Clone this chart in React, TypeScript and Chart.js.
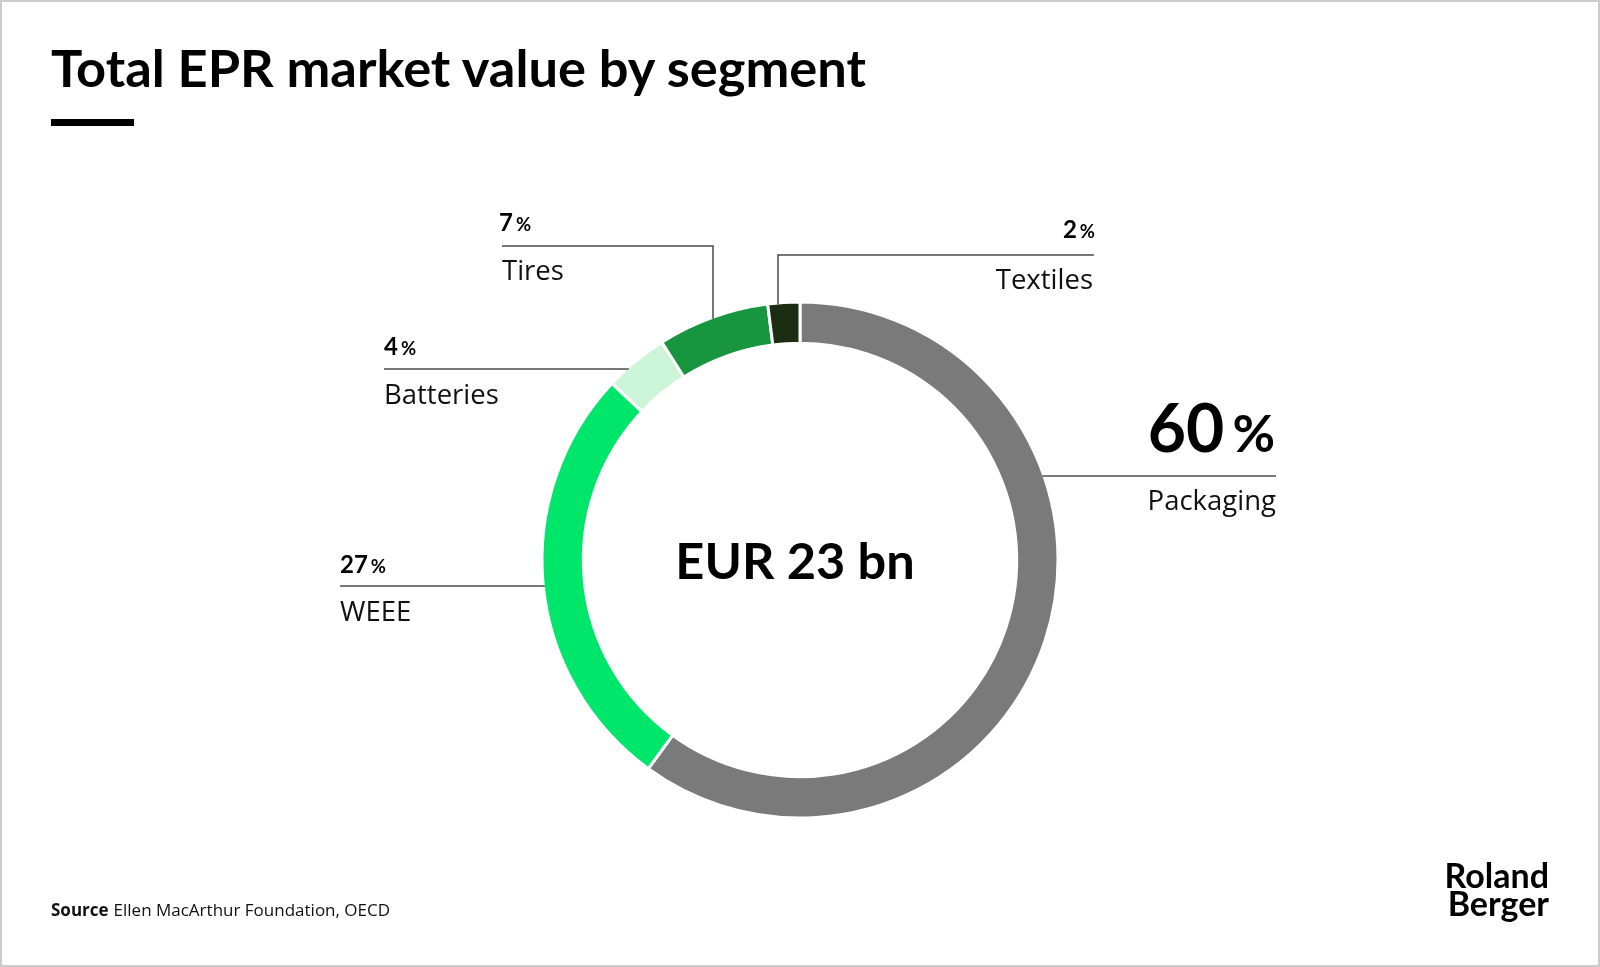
import React, { useEffect, useRef } from "react";
import { Chart, registerables } from "chart.js";

Chart.register(...registerables);

// ---------- data ----------
const segments = ["Packaging", "WEEE", "Batteries", "Tires", "Textiles"];
const shares = [60, 27, 4, 7, 2];
const segmentColors = ["#7a7a7a", "#00e66b", "#ccf5d8", "#17953f", "#1b2d12"];
const titleText = "Total EPR market value by segment";
const centerText = "EUR 23 bn";
const sourceLabel = "Source";
const sourceText = "Ellen MacArthur Foundation, OECD";
const logoLines = ["Roland", "Berger"];

// ---------- layout ----------
const W = 1600;
const H = 967;
const RING_RADIUS = 258;
const BORDER = 3;

type Callout = {
  idx: number;
  side: "left" | "right";
  lineY: number;
  lineEnd: number;
  vx?: number;
  textX: number;
  pctX: number;
  pctBase: number;
  nameBase: number;
  big?: boolean;
};

const callouts: Callout[] = [
  { idx: 0, side: "right", lineY: 476, lineEnd: 1276, textX: 1276, pctX: 1275, pctBase: 452, nameBase: 510, big: true },
  { idx: 1, side: "left", lineY: 586, lineEnd: 340, textX: 340, pctX: 340, pctBase: 573, nameBase: 621 },
  { idx: 2, side: "left", lineY: 369, lineEnd: 384, textX: 384, pctX: 384, pctBase: 355, nameBase: 404 },
  { idx: 3, side: "left", lineY: 246, lineEnd: 502, vx: 713, textX: 502, pctX: 499, pctBase: 231, nameBase: 280 },
  { idx: 4, side: "right", lineY: 255, lineEnd: 1094, vx: 778, textX: 1093, pctX: 1095, pctBase: 238, nameBase: 289 },
];

const leaderPlugin = {
  id: "leaders",
  afterDatasetsDraw(chart: any) {
    const meta = chart.getDatasetMeta(0);
    const arc: any = meta.data[0];
    if (!arc) return;
    const cx = arc.x;
    const cy = arc.y;
    const R = arc.outerRadius - BORDER / 2;
    const ctx = chart.ctx;
    ctx.save();
    ctx.strokeStyle = "#4a4a4a";
    ctx.lineWidth = 1.5;
    callouts.forEach((c) => {
      ctx.beginPath();
      if (c.vx !== undefined) {
        const yEdge = cy - Math.sqrt(Math.max(R * R - (c.vx - cx) * (c.vx - cx), 0));
        ctx.moveTo(c.lineEnd, c.lineY);
        ctx.lineTo(c.vx, c.lineY);
        ctx.lineTo(c.vx, yEdge);
      } else {
        const dx = Math.sqrt(Math.max(R * R - (c.lineY - cy) * (c.lineY - cy), 0));
        const xEdge = c.side === "left" ? cx - dx : cx + dx;
        ctx.moveTo(c.lineEnd, c.lineY);
        ctx.lineTo(xEdge, c.lineY);
      }
      ctx.stroke();
    });
    ctx.restore();
  },
};

const BOLD = "Lato, 'Open Sans', sans-serif";
const REG = "'Open Sans', Lato, sans-serif";

export default function App() {
  const canvasRef = useRef<HTMLCanvasElement | null>(null);

  useEffect(() => {
    document.body.style.margin = "0";
    const canvas = canvasRef.current;
    if (!canvas) return;
    const chart = new Chart(canvas, {
      type: "doughnut",
      data: {
        labels: segments,
        datasets: [
          {
            data: shares,
            backgroundColor: segmentColors,
            borderColor: "#ffffff",
            borderWidth: BORDER,
            hoverOffset: 0,
          },
        ],
      },
      options: {
        responsive: false,
        animation: false,
        events: [],
        rotation: 0,
        radius: RING_RADIUS,
        cutout: "84%",
        layout: { padding: { top: 200, bottom: 47, left: 0, right: 0 } },
        plugins: {
          legend: { display: false },
          tooltip: { enabled: false },
          title: { display: false },
        },
      },
      plugins: [leaderPlugin],
    });
    return () => chart.destroy();
  }, []);

  return (
    <div style={{ position: "absolute", left: 0, top: 0, width: W, height: H, background: "#ffffff", overflow: "hidden" }}>
      <canvas ref={canvasRef} width={W} height={H} style={{ position: "absolute", left: 0, top: 0, width: W, height: H }} />
      <svg width={W} height={H} style={{ position: "absolute", left: 0, top: 0 }}>
        <text x={51} y={87} fontFamily={BOLD} fontWeight={700} fontSize={52.4} fill="#000">
          {titleText}
        </text>
        <rect x={51} y={119} width={83} height={7} fill="#000" />

        {callouts.map((c) => {
          const anchor = c.side === "right" ? "end" : "start";
          const numSize = c.big ? 66 : 24;
          const pctSize = c.big ? 52 : 18.5;
          return (
            <g key={segments[c.idx]}>
              <text x={c.pctX} y={c.pctBase} textAnchor={anchor} fontFamily={BOLD} fontWeight={700} fill="#000">
                <tspan fontSize={numSize}>{String(shares[c.idx])}</tspan>
                <tspan fontSize={pctSize} dx={c.big ? 8 : 3}>%</tspan>
              </text>
              <text x={c.textX} y={c.nameBase} textAnchor={anchor} fontFamily={REG} fontWeight={400} fontSize={27.5} fill="#111">
                {segments[c.idx]}
              </text>
            </g>
          );
        })}

        <text x={795} y={579} textAnchor="middle" fontFamily={BOLD} fontWeight={700} fontSize={50.5} fill="#000">
          {centerText}
        </text>

        <text x={51} y={916} fontFamily={REG} fontSize={17} fill="#111">
          <tspan fontWeight={700}>{sourceLabel}</tspan>
          <tspan dx={5} fontWeight={400}>{sourceText}</tspan>
        </text>

        <text x={1549} y={888} textAnchor="end" fontFamily={BOLD} fontWeight={700} fontSize={34} fill="#000">
          {logoLines[0]}
        </text>
        <text x={1549} y={916} textAnchor="end" fontFamily={BOLD} fontWeight={700} fontSize={34} fill="#000">
          {logoLines[1]}
        </text>
      </svg>
      <div style={{ position: "absolute", left: 0, top: 0, width: W, height: H, boxSizing: "border-box", border: "2px solid #cbcbcb", pointerEvents: "none" }} />
    </div>
  );
}
